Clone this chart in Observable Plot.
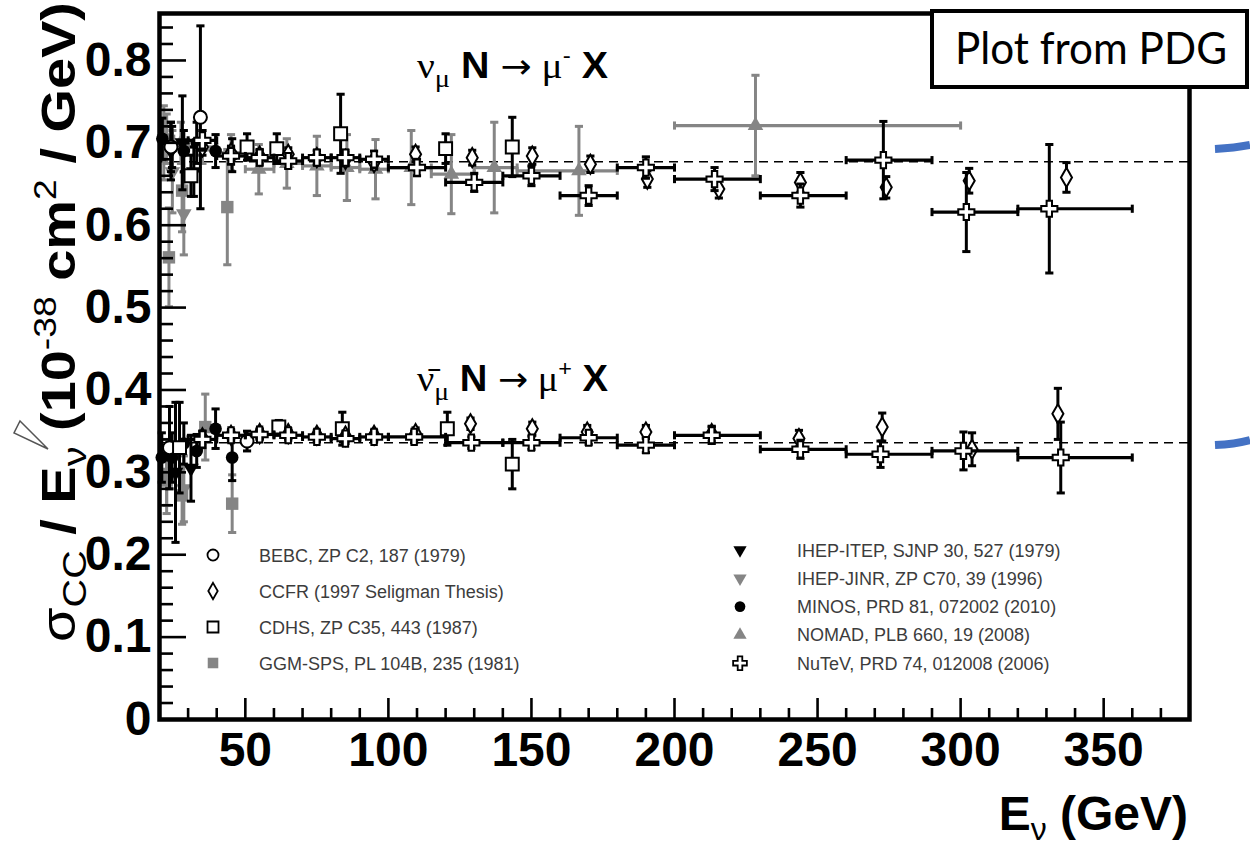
<!DOCTYPE html>
<html><head><meta charset="utf-8">
<script src="https://cdn.jsdelivr.net/npm/d3@7"></script>
<script src="https://cdn.jsdelivr.net/npm/@observablehq/plot@0.6"></script>
<style>html,body{margin:0;padding:0;background:#fff;} #chart{width:1250px;height:847px;overflow:hidden;}</style>
</head><body><div id="chart"></div>
<script>
// ---------- DATA : [E (GeV), sigma_CC/E (1e-38 cm^2/GeV), error] ----------
const bebcNu    = [[24.0,0.695,0.030],[34.3,0.731,0.111]];
const bebcNubar = [[23.5,0.330,0.050],[50.6,0.338,0.012]];
const ccfrNu = [[35,0.695,0.010],[45,0.688,0.008],[55,0.684,0.008],[65,0.686,0.008],[75,0.682,0.008],[85,0.680,0.008],[95,0.676,0.008],[109.5,0.686,0.009],[129.3,0.682,0.009],[150.3,0.684,0.010],[170.6,0.674,0.010],[190.5,0.656,0.010],[215.5,0.644,0.011],[244,0.652,0.012],[274,0.646,0.013],[303,0.654,0.015],[337,0.658,0.018]];
const ccfrNubar = [[35,0.342,0.008],[45,0.345,0.006],[55,0.347,0.006],[65,0.347,0.006],[75,0.345,0.006],[85,0.344,0.006],[95,0.345,0.006],[109.5,0.347,0.007],[128.7,0.359,0.007],[150.3,0.353,0.008],[169.5,0.349,0.008],[190,0.349,0.008],[213,0.347,0.009],[243.5,0.341,0.010],[272.6,0.355,0.017],[304,0.328,0.020],[334,0.371,0.031]];
const cdhsNu    = [[31,0.660,0.025],[50.6,0.695,0.016],[61,0.693,0.018],[83.3,0.711,0.048],[120,0.693,0.018],[143.3,0.695,0.036]];
const cdhsNubar = [[27,0.330,0.055],[61.7,0.355,0.008],[83.9,0.353,0.020],[120.6,0.353,0.020],[143.3,0.310,0.030]];
const ggmNu     = [[23.3,0.561,0.060],[27.9,0.642,0.050],[43.7,0.622,0.070]];
const ggmNubar  = [[22.5,0.290,0.040],[27.9,0.272,0.035],[36,0.355,0.040],[45.4,0.262,0.035]];
const itepNu    = [[24,0.690,0.035],[28,0.700,0.057],[32,0.665,0.030]];
const itepNubar = [[25.6,0.300,0.085],[31,0.305,0.040]];
const jinrNu    = [[21.5,0.700,0.045],[24.5,0.665,0.050],[28.5,0.614,0.050]];
const jinrNubar = [[22.5,0.300,0.040],[28.5,0.280,0.040]];
const minosNu    = [[21,0.705,0.025],[24.4,0.695,0.025],[28.5,0.690,0.025],[33,0.700,0.025],[39.6,0.690,0.020],[45.4,0.685,0.020]];
const minosNubar = [[20.8,0.318,0.030],[24.4,0.318,0.030],[28.5,0.335,0.025],[33,0.326,0.020],[39.6,0.353,0.024],[45.4,0.318,0.028]];
// [E, value, error, bin low, bin high]
const nomadNu = [[22.5,0.705,0.030,20,25],[27.5,0.700,0.025,25,30],[35,0.695,0.020,30,40],[45,0.688,0.022,40,50],[54.7,0.668,0.030,50,60],[64.5,0.675,0.030,60,70],[75,0.672,0.036,70,80],[85.5,0.670,0.040,80,90],[95.5,0.668,0.036,90,100],[108,0.670,0.045,100,115],[122,0.662,0.048,115,130],[137,0.670,0.055,130,145],[166.6,0.666,0.054,145,180],[228.3,0.721,0.061,200,300]];
const nutevNu = [[35,0.703,0.012,30,40],[45,0.684,0.010,40,50],[55,0.682,0.009,50,60],[65,0.678,0.009,60,70],[75,0.682,0.009,70,80],[85,0.682,0.009,80,90],[95,0.680,0.010,90,100],[110,0.670,0.010,100,120],[130,0.652,0.011,120,140],[150,0.660,0.012,140,160],[170,0.636,0.012,160,180],[190,0.670,0.013,180,200],[214,0.656,0.014,200,230],[244,0.636,0.014,230,260],[273,0.679,0.047,260,290],[302,0.616,0.048,290,320],[331,0.620,0.078,320,360]];
const nutevNubar = [[35,0.340,0.010,30,40],[45,0.345,0.007,40,50],[55,0.346,0.006,50,60],[65,0.345,0.006,60,70],[75,0.343,0.006,70,80],[85,0.341,0.006,80,90],[95,0.343,0.006,90,100],[109,0.343,0.007,100,120],[129,0.336,0.007,120,140],[150,0.336,0.008,140,160],[170,0.342,0.008,160,180],[190,0.333,0.009,180,200],[213,0.345,0.010,200,230],[244,0.328,0.011,230,260],[272,0.322,0.016,260,290],[301,0.326,0.023,290,320],[335,0.318,0.043,320,360]];
// reference lines
const dashLevels = [0.677, 0.336];
// ticks
const xMajor = [50,100,150,200,250,300,350];
const xLabels = ["50","100","150","200","250","300","350"];
const yMajor = [0,0.1,0.2,0.3,0.4,0.5,0.6,0.7,0.8];
const yLabels = ["0","0.1","0.2","0.3","0.4","0.5","0.6","0.7","0.8"];
// legend
const legendNames = ["BEBC, ZP C2, 187 (1979)","CCFR (1997 Seligman Thesis)","CDHS, ZP C35, 443 (1987)","GGM-SPS, PL 104B, 235 (1981)","IHEP-ITEP, SJNP 30, 527 (1979)","IHEP-JINR, ZP C70, 39 (1996)","MINOS, PRD 81, 072002 (2010)","NOMAD, PLB 660, 19 (2008)","NuTeV, PRD 74, 012008 (2006)"];

// ---------- STYLE ----------
const GRAY = "#858585";
const triDown = {draw(ctx, size){ const y = -Math.sqrt(size/(Math.sqrt(3)*3)); ctx.moveTo(0,-2*y); ctx.lineTo(Math.sqrt(3)*y, y); ctx.lineTo(-Math.sqrt(3)*y, y); ctx.closePath(); }};
const capH = {draw(ctx, size){ const w = Math.sqrt(size)/2; ctx.moveTo(-w,0); ctx.lineTo(w,0); }};
const capV = {draw(ctx, size){ const w = Math.sqrt(size)/2; ctx.moveTo(0,-w); ctx.lineTo(0,w); }};
const styles = [
  {sym:d3.symbolCircle,  fill:"white", stroke:"black", r:6.5, c:"black"},   // BEBC
  {sym:d3.symbolDiamond, fill:"white", stroke:"black", r:5.8, c:"black"},   // CCFR
  {sym:d3.symbolSquare,  fill:"white", stroke:"black", r:7.3, c:"black"},   // CDHS
  {sym:d3.symbolSquare,  fill:GRAY,    stroke:"none",  r:7.0, c:GRAY},      // GGM
  {sym:triDown,          fill:"black", stroke:"none",  r:5.8, c:"black"},   // IHEP-ITEP
  {sym:triDown,          fill:GRAY,    stroke:"none",  r:5.8, c:GRAY},      // IHEP-JINR
  {sym:d3.symbolCircle,  fill:"black", stroke:"none",  r:6.3, c:"black"},   // MINOS
  {sym:d3.symbolTriangle,fill:GRAY,    stroke:"none",  r:5.8, c:GRAY},      // NOMAD
  {sym:d3.symbolCross,   fill:"white", stroke:"black", r:6.8, c:"black"}    // NuTeV
];

function toTable(rows){ return rows.map(r => ({E:r[0], v:r[1], err:r[2], lo:r[3], hi:r[4]})); }
function seriesMarks(rows, st){
  const t = toTable(rows);
  const m = [];
  m.push(Plot.ruleX(t, {x:"E", y1:d=>d.v-d.err, y2:d=>d.v+d.err, stroke:st.c, strokeWidth:3}));
  m.push(Plot.dot(t, {x:"E", y:d=>d.v+d.err, symbol:capH, r:4.6, stroke:st.c, fill:"none", strokeWidth:3}));
  m.push(Plot.dot(t, {x:"E", y:d=>d.v-d.err, symbol:capH, r:4.6, stroke:st.c, fill:"none", strokeWidth:3}));
  if (rows[0].length > 3){
    m.push(Plot.ruleY(t, {y:"v", x1:"lo", x2:"hi", stroke:st.c, strokeWidth:3.2}));
    m.push(Plot.dot(t, {x:"lo", y:"v", symbol:capV, r:4.6, stroke:st.c, fill:"none", strokeWidth:3}));
    m.push(Plot.dot(t, {x:"hi", y:"v", symbol:capV, r:4.6, stroke:st.c, fill:"none", strokeWidth:3}));
  }
  m.push(Plot.dot(t, {x:"E", y:"v", symbol:st.sym, r:st.r, fill:st.fill, stroke:st.stroke, strokeWidth:2}));
  return m;
}

const W = 1250, H = 847, mL = 159, mR = 61, mT = 13, mB = 128;
const innerW = W - mL - mR, innerH = H - mT - mB;
const xMinor = d3.range(30, 380, 10).filter(d => d % 50 !== 0);
const yMinor = d3.range(1, 43).filter(i => i % 5 !== 0).map(i => i * 0.02);

// draw order: gray experiments first, NuTeV last
const order = [
  [ggmNu,3],[ggmNubar,3],[jinrNu,5],[jinrNubar,5],[nomadNu,7],
  [itepNu,4],[itepNubar,4],[minosNu,6],[minosNubar,6],
  [bebcNu,0],[bebcNubar,0],[cdhsNu,2],[cdhsNubar,2],[ccfrNu,1],[ccfrNubar,1],
  [nutevNu,8],[nutevNubar,8]
];

const svgEl = Plot.plot({
  width: W, height: H,
  marginLeft: mL, marginRight: mR, marginTop: mT, marginBottom: mB,
  x: {domain: [20, 380]},
  y: {domain: [0, 0.857]},
  style: {background: "white", overflow: "visible", fontFamily: "'Liberation Sans', Arial, sans-serif"},
  marks: [
    Plot.ruleY(dashLevels, {y: d => d, strokeDasharray: "9,6", strokeWidth: 1.6, stroke: "black"}),
    ...order.flatMap(([rows, i]) => seriesMarks(rows, styles[i])),
    Plot.tickX(xMajor, {x: d => d, insetTop: innerH - 21, strokeWidth: 2.6}),
    Plot.tickX(xMinor, {x: d => d, insetTop: innerH - 11, strokeWidth: 2.6}),
    Plot.tickY(yMajor, {y: d => d, insetRight: innerW - 27, strokeWidth: 2.6}),
    Plot.tickY(yMinor, {y: d => d, insetRight: innerW - 14, strokeWidth: 2.6}),
    Plot.axisX(xMajor, {tickSize: 0, tickPadding: 12, fontSize: 48, fontWeight: "bold", tickFormat: d => xLabels[xMajor.indexOf(d)], label: null}),
    Plot.axisY(yMajor, {tickSize: 0, tickPadding: 8, fontSize: 48, fontWeight: "bold", tickFormat: d => yLabels[yMajor.indexOf(d)], label: null}),
    Plot.frame({strokeWidth: 4.5, stroke: "black"})
  ]
});
document.getElementById("chart").appendChild(svgEl);

const svg = d3.select(svgEl);
const SERIF = "'Liberation Serif', 'DejaVu Serif', serif";
const SANS = "'Liberation Sans', Arial, sans-serif";

// ---------- legend ----------
const lg = svg.append("g").attr("font-family", SANS).attr("font-size", 18).attr("fill", "#3c3c3c").attr("text-anchor", "start");
legendNames.forEach((name, i) => {
  const st = styles[i];
  const left = i < 4;
  const mx = left ? 213 : 740;
  const my = left ? 555 + 36 * i : 550 + 28.3 * (i - 4);
  const tx = left ? 259 : 797;
  lg.append("path")
    .attr("transform", `translate(${mx},${my})`)
    .attr("d", d3.symbol(st.sym, Math.PI * (st.r * 0.85) ** 2)())
    .attr("fill", st.fill).attr("stroke", st.stroke === "none" ? "none" : st.stroke).attr("stroke-width", 1.8);
  lg.append("text").attr("x", tx).attr("y", my + 6.5).attr("text-anchor", "start").text(name);
});

// ---------- process labels ----------
function proc(y, bar, sign){
  const t = svg.append("text").attr("x", 417).attr("y", y).attr("font-size", 36).attr("font-family", SANS)
    .attr("text-anchor", "start")
    .attr("textLength", 191).attr("lengthAdjust", "spacingAndGlyphs").attr("fill", "black");
  t.append("tspan").attr("font-family", SERIF).text(bar ? "ν\u0304" : "ν");
  t.append("tspan").attr("font-family", SERIF).attr("font-size", 26).attr("dy", 9).text("μ");
  t.append("tspan").attr("dy", -9).attr("font-weight", "bold").text(" N ");
  t.append("tspan").attr("font-family", "'DejaVu Sans', sans-serif").attr("font-size", 34).text("→");
  t.append("tspan").attr("font-family", SERIF).text(" μ");
  t.append("tspan").attr("font-size", 22).attr("dy", -15).text(sign);
  t.append("tspan").attr("dy", 15).attr("font-weight", "bold").text(" X");
}
proc(78, false, "-");
proc(391, true, "+");

// ---------- axis titles ----------
const yt = svg.append("text").attr("transform", "translate(75,322) rotate(-90)").attr("text-anchor", "middle")
  .attr("font-family", SANS).attr("font-size", 48).attr("font-weight", "bold").attr("fill", "black")
  .attr("textLength", 640).attr("lengthAdjust", "spacingAndGlyphs");
yt.append("tspan").attr("font-weight", "normal").text("σ");
yt.append("tspan").attr("font-weight", "normal").attr("font-size", 34).attr("dy", 11).text("CC");
yt.append("tspan").attr("dy", -11).text(" / E");
yt.append("tspan").attr("font-weight", "normal").attr("font-size", 34).attr("dy", 11).text("ν");
yt.append("tspan").attr("dy", -11).text(" (10");
yt.append("tspan").attr("font-weight", "normal").attr("font-size", 32).attr("dy", -19).text("-38");
yt.append("tspan").attr("dy", 19).text(" cm");
yt.append("tspan").attr("font-weight", "normal").attr("font-size", 32).attr("dy", -19).text("2");
yt.append("tspan").attr("dy", 19).text(" / GeV)");

const xt = svg.append("text").attr("x", 1188).attr("y", 830).attr("text-anchor", "end")
  .attr("font-family", SANS).attr("font-size", 48).attr("font-weight", "bold").attr("fill", "black");
xt.append("tspan").text("E");
xt.append("tspan").attr("font-weight", "normal").attr("font-size", 32).attr("dy", 10).text("ν");
xt.append("tspan").attr("dy", -10).text(" (GeV)");

// ---------- overlay annotations ----------
svg.append("rect").attr("x", 932).attr("y", 11).attr("width", 315).attr("height", 76)
  .attr("fill", "white").attr("stroke", "black").attr("stroke-width", 4);
svg.append("text").attr("x", 955).attr("y", 64).attr("text-anchor", "start").attr("font-family", "Lato, 'Open Sans', sans-serif")
  .attr("font-size", 44).attr("fill", "black").attr("textLength", 272).attr("lengthAdjust", "spacingAndGlyphs").text("Plot from PDG");
svg.append("path").attr("d", "M1215,149 Q1235,148 1250,145").attr("fill", "none").attr("stroke", "#4472C4").attr("stroke-width", 8);
svg.append("path").attr("d", "M1215,445 Q1235,444 1250,440").attr("fill", "none").attr("stroke", "#4472C4").attr("stroke-width", 8);
svg.append("path").attr("d", "M48,449 L20,421 L14,433 Z").attr("fill", "white").attr("stroke", "#555").attr("stroke-width", 1.5);
</script>
</body></html>
